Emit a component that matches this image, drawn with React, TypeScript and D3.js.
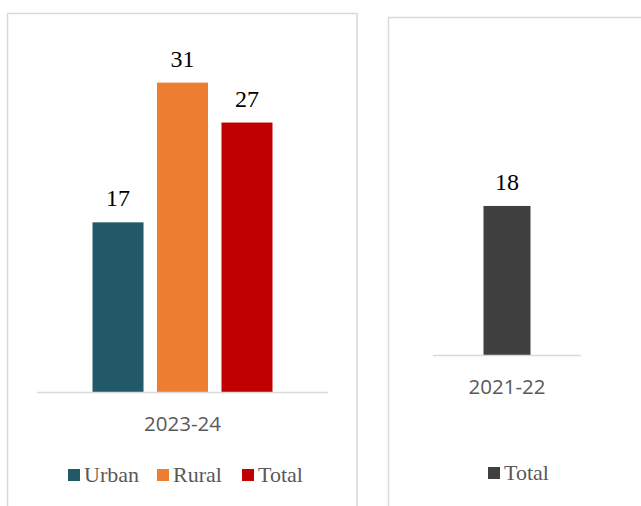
import React from "react";
import * as d3 from "d3";

const leftPeriods = ["2023-24"];
const leftSeries = ["Urban", "Rural", "Total"];
const leftValues = [17, 31, 27];
const leftColors = ["#215968", "#ED7D31", "#C00000"];

const rightPeriods = ["2021-22"];
const rightSeries = ["Total"];
const rightValues = [18];
const rightColors = ["#404040"];

const W = 641;
const H = 506;
const labelFont = "'Liberation Serif', 'DejaVu Serif', serif";
const axisFont = "'Open Sans', 'Noto Sans', sans-serif";
const grid = "#d9d9d9";
const textGray = "#595959";

export default function App() {
  // Left panel scales
  const lxOuter = d3.scaleBand<string>().domain(leftPeriods).range([37, 328]).padding(0.2357);
  const lxInner = d3
    .scaleBand<string>()
    .domain(leftSeries)
    .range([lxOuter(leftPeriods[0])!, lxOuter(leftPeriods[0])! + lxOuter.bandwidth()])
    .paddingInner(0.209)
    .paddingOuter(0);
  const ly = d3.scaleLinear().domain([0, 35]).range([392, 392 - 35 * 9.98]);

  // Right panel scales
  const rxOuter = d3.scaleBand<string>().domain(rightPeriods).range([433, 581]).padding(0.518);
  const ry = d3.scaleLinear().domain([0, 20]).range([355, 355 - 20 * 8.28]);

  const legendLeftX = [68, 157, 242];

  return (
    <div style={{ position: "absolute", left: 0, top: 0, width: W, height: H, background: "#fff" }}>
      <svg width={W} height={H} style={{ display: "block" }}>
        <rect x={0} y={0} width={W} height={H} fill="#ffffff" />
        {/* Left panel frame */}
        <rect x={7.5} y={13.5} width={349.5} height={H} fill="none" stroke={grid} strokeWidth={1.5} />
        {/* Right panel frame */}
        <rect x={388.5} y={17.5} width={W} height={H} fill="none" stroke={grid} strokeWidth={1.5} />

        {/* Left bars */}
        {leftSeries.map((s, i) => (
          <g key={s}>
            <rect
              x={lxInner(s)}
              y={ly(leftValues[i])}
              width={lxInner.bandwidth()}
              height={ly(0) - ly(leftValues[i])}
              fill={leftColors[i]}
            />
            <text
              x={lxInner(s)! + lxInner.bandwidth() / 2}
              y={ly(leftValues[i]) - 16}
              textAnchor="middle"
              fontFamily={labelFont}
              fontSize={24}
              fill="#000"
            >
              {leftValues[i]}
            </text>
          </g>
        ))}
        <line x1={37} x2={328} y1={ly(0) + 0.5} y2={ly(0) + 0.5} stroke={grid} strokeWidth={1.5} />
        {leftPeriods.map((p) => (
          <text
            key={p}
            x={lxOuter(p)! + lxOuter.bandwidth() / 2}
            y={431}
            textAnchor="middle"
            fontFamily={axisFont}
            fontSize={20.5}
            fill={textGray}
          >
            {p}
          </text>
        ))}
        {leftSeries.map((s, i) => (
          <g key={"lg" + s}>
            <rect x={legendLeftX[i]} y={469} width={12} height={12} fill={leftColors[i]} />
            <text x={legendLeftX[i] + 16} y={482} fontFamily={labelFont} fontSize={22} fill={textGray}>
              {s}
            </text>
          </g>
        ))}

        {/* Right bars */}
        {rightPeriods.map((p, i) => (
          <g key={p}>
            <rect
              x={rxOuter(p)}
              y={ry(rightValues[i])}
              width={rxOuter.bandwidth()}
              height={ry(0) - ry(rightValues[i])}
              fill={rightColors[i]}
            />
            <text
              x={rxOuter(p)! + rxOuter.bandwidth() / 2}
              y={ry(rightValues[i]) - 16}
              textAnchor="middle"
              fontFamily={labelFont}
              fontSize={24}
              fill="#000"
            >
              {rightValues[i]}
            </text>
            <text
              x={rxOuter(p)! + rxOuter.bandwidth() / 2}
              y={394}
              textAnchor="middle"
              fontFamily={axisFont}
              fontSize={20.5}
              fill={textGray}
            >
              {p}
            </text>
          </g>
        ))}
        <line x1={433} x2={581} y1={ry(0) + 0.5} y2={ry(0) + 0.5} stroke={grid} strokeWidth={1.5} />
        {rightSeries.map((s, i) => (
          <g key={"rg" + s}>
            <rect x={488} y={467} width={12} height={12} fill={rightColors[i]} />
            <text x={504} y={480} fontFamily={labelFont} fontSize={22} fill={textGray}>
              {s}
            </text>
          </g>
        ))}
      </svg>
    </div>
  );
}
